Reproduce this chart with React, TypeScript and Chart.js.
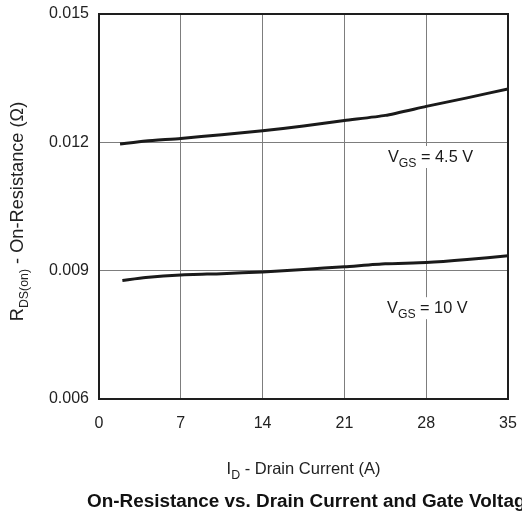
import React, { useEffect, useRef } from "react";
import { Chart, registerables } from "chart.js";

Chart.register(...registerables);

// ---- data ----
const idVgs45 = [1.8, 4, 7, 10.5, 14, 17.5, 21, 24.5, 28, 31.5, 35];
const rdsVgs45 = [0.01196, 0.01203, 0.01209, 0.01218, 0.01227, 0.01238, 0.01251, 0.01263, 0.01284, 0.01304, 0.01325];
const idVgs10 = [2, 4, 7, 10.5, 14, 17.5, 21, 24.5, 28, 31.5, 35];
const rdsVgs10 = [0.00877, 0.00884, 0.0089, 0.00893, 0.00897, 0.00903, 0.00909, 0.00916, 0.00919, 0.00926, 0.00935];
const xTickValues = [0, 7, 14, 21, 28, 35];
const yTickValues = [0.006, 0.009, 0.012, 0.015];

const FONT = "'Liberation Sans', Arial, Helvetica, sans-serif";

type Seg = { t: string; sub?: boolean };

function richWidth(ctx: CanvasRenderingContext2D, segs: Seg[], size: number, weight: string, subScale: number) {
  let w = 0;
  for (const s of segs) {
    ctx.font = `${weight} ${s.sub ? size * subScale : size}px ${FONT}`;
    w += ctx.measureText(s.t).width;
  }
  return w;
}

function drawRich(
  ctx: CanvasRenderingContext2D,
  segs: Seg[],
  x: number,
  y: number,
  size: number,
  align: "left" | "center",
  color = "#1a1a1a",
  subScale = 0.75,
  subDrop = 0.28
) {
  const weight = "normal";
  const total = richWidth(ctx, segs, size, weight, subScale);
  let cx = align === "center" ? x - total / 2 : x;
  ctx.fillStyle = color;
  ctx.textBaseline = "alphabetic";
  ctx.textAlign = "left";
  for (const s of segs) {
    const fs = s.sub ? size * subScale : size;
    ctx.font = `${weight} ${fs}px ${FONT}`;
    ctx.fillText(s.t, cx, s.sub ? y + size * subDrop : y);
    cx += ctx.measureText(s.t).width;
  }
  return total;
}

const labelVgs45: Seg[] = [{ t: "V" }, { t: "GS", sub: true }, { t: " = 4.5 V" }];
const labelVgs10: Seg[] = [{ t: "V" }, { t: "GS", sub: true }, { t: " = 10 V" }];
const yTitle: Seg[] = [{ t: "R" }, { t: "DS(on)", sub: true }, { t: " - On-Resistance (Ω)" }];
const xTitle: Seg[] = [{ t: "I" }, { t: "D", sub: true }, { t: " - Drain Current (A)" }];
const chartTitle = "On-Resistance vs. Drain Current and Gate Voltage";

const decorPlugin = {
  id: "decor",
  afterDatasetsDraw(chart: any) {
    const ctx: CanvasRenderingContext2D = chart.ctx;
    const xs = chart.scales.x;
    const ys = chart.scales.y;
    const ca = chart.chartArea;
    ctx.save();
    const anns: [Seg[], number, number][] = [
      [labelVgs45, 24.73, 0.01154],
      [labelVgs10, 24.65, 0.008006],
    ];
    for (const [segs, xv, yv] of anns) {
      const px = xs.getPixelForValue(xv);
      const py = ys.getPixelForValue(yv);
      const w = richWidth(ctx, segs, 16.3, "normal", 0.75);
      ctx.fillStyle = "#ffffff";
      ctx.fillRect(px - 2, py - 16, w + 4, 22);
      drawRich(ctx, segs, px, py, 16.3, "left");
    }
    ctx.strokeStyle = "#1e1e1e";
    ctx.lineWidth = 2;
    ctx.strokeRect(ca.left, ca.top, ca.right - ca.left, ca.bottom - ca.top);
    ctx.restore();
  },
  afterDraw(chart: any) {
    const ctx: CanvasRenderingContext2D = chart.ctx;
    const ca = chart.chartArea;
    ctx.save();
    drawRich(ctx, xTitle, (ca.left + ca.right) / 2, 474, 16.5, "center", "#222");
    ctx.translate(22.5, 211.5);
    ctx.rotate(-Math.PI / 2);
    drawRich(ctx, yTitle, 0, 0, 18.2, "center", "#222", 0.68, 0.3);
    ctx.restore();
    ctx.save();
    ctx.font = `bold 18.9px ${FONT}`;
    ctx.fillStyle = "#111";
    ctx.textAlign = "left";
    ctx.textBaseline = "alphabetic";
    ctx.fillText(chartTitle, 87, 507);
    ctx.restore();
  },
};

const zeroPad = (s: any) => {
  s.paddingLeft = 0;
  s.paddingRight = 0;
  s.paddingTop = 0;
  s.paddingBottom = 0;
};

export default function App() {
  const ref = useRef<HTMLCanvasElement | null>(null);
  useEffect(() => {
    if (!ref.current) return;
    const chart = new Chart(ref.current, {
      type: "line",
      data: {
        datasets: [
          {
            label: "VGS = 4.5 V",
            data: idVgs45.map((x, i) => ({ x, y: rdsVgs45[i] })),
            borderColor: "#1a1a1a",
            borderWidth: 3,
            pointRadius: 0,
            tension: 0.2,
            fill: false,
          },
          {
            label: "VGS = 10 V",
            data: idVgs10.map((x, i) => ({ x, y: rdsVgs10[i] })),
            borderColor: "#1a1a1a",
            borderWidth: 3,
            pointRadius: 0,
            tension: 0.2,
            fill: false,
          },
        ],
      },
      options: {
        animation: false,
        responsive: false,
        devicePixelRatio: 1,
        layout: { padding: { top: 14, right: 14, left: 0, bottom: 0 } },
        plugins: {
          legend: { display: false },
          tooltip: { enabled: false },
          title: { display: false },
        },
        scales: {
          x: {
            type: "linear",
            min: 0,
            max: 35,
            afterBuildTicks: (s: any) => {
              s.ticks = xTickValues.map((v) => ({ value: v }));
            },
            afterFit: (s: any) => {
              s.height = 116;
              zeroPad(s);
            },
            grid: { color: "#7d7d7d", lineWidth: 1, drawTicks: false },
            border: { display: true, color: "#1e1e1e", width: 2 },
            ticks: {
              padding: 15,
              color: "#222",
              font: { family: FONT, size: 16 },
              maxRotation: 0,
              autoSkip: false,
              callback: (v: any) => String(v),
            },
          },
          y: {
            type: "linear",
            min: 0.006,
            max: 0.015,
            afterBuildTicks: (s: any) => {
              s.ticks = yTickValues.map((v) => ({ value: v }));
            },
            afterFit: (s: any) => {
              s.width = 99;
              zeroPad(s);
            },
            grid: { color: "#7d7d7d", lineWidth: 1, drawTicks: false },
            border: { display: true, color: "#1e1e1e", width: 2 },
            ticks: {
              padding: 10,
              color: "#222",
              font: { family: FONT, size: 16 },
              autoSkip: false,
              callback: (v: any) => Number(v).toFixed(3),
            },
          },
        },
      },
      plugins: [decorPlugin],
    });
    return () => chart.destroy();
  }, []);
  return (
    <div style={{ position: "absolute", left: 0, top: 0, width: 522, height: 515, background: "#fff" }}>
      <canvas ref={ref} width={522} height={515} style={{ display: "block" }} />
    </div>
  );
}
